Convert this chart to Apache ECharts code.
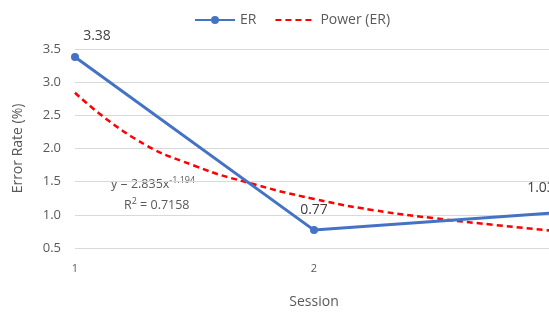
<!DOCTYPE html>
<html>
<head>
<meta charset="utf-8">
<script src="https://cdn.jsdelivr.net/npm/echarts@6/dist/echarts.min.js"></script>
<style>
html, body { margin: 0; padding: 0; background: #fff; }
#chartDiv { width: 549px; height: 312px; }
</style>
</head>
<body>
<div id="chartDiv"></div>
<script>
// 数据
var sessions = [1, 2, 3];
var errorRates = [3.38, 0.77, 1.03];
// Power (ER) trendline
var trendSessions = [1, 1.25, 1.5, 1.75, 2, 2.25, 2.5, 2.75, 3];
var trendValues = [2.84, 2.15, 1.74, 1.46, 1.24, 1.07, 0.95, 0.85, 0.76];
var yTicks = [0.5, 1.0, 1.5, 2.0, 2.5, 3.0, 3.5];

var textColor = '#595959';
var fontName = '"Open Sans", "Noto Sans", sans-serif';

var labelOffsets = [[22, -5], [0, -4], [-12, -9]];

var erData = [];
for (var i = 0; i < sessions.length; i++) {
	erData.push({
		value: [sessions[i], errorRates[i]],
		label: { offset: labelOffsets[i] }
	});
}
var trendData = [];
for (var j = 0; j < trendSessions.length; j++) {
	trendData.push([trendSessions[j], trendValues[j]]);
}

var myChart = echarts.init(document.getElementById('chartDiv'));

var option = {
	animation: false,
	textStyle: { fontFamily: fontName, color: textColor },
	legend: {
		top: 8,
		left: 189,
		itemWidth: 40,
		itemHeight: 10,
		itemGap: 18,
		textStyle: { fontSize: 14, color: textColor, fontFamily: fontName },
		data: [
			{ name: 'ER' },
			{ name: 'Power (ER)', itemStyle: { opacity: 0 } }
		]
	},
	grid: {
		left: 75,
		top: 49,
		width: 478,
		height: 199,
		outerBoundsMode: 'none'
	},
	xAxis: {
		type: 'value',
		min: 1,
		max: 3,
		interval: 1,
		name: 'Session',
		nameLocation: 'middle',
		nameGap: 47,
		nameTextStyle: { fontSize: 14, color: textColor },
		axisLine: { show: false },
		axisTick: { show: false },
		splitLine: { show: false },
		axisLabel: { fontSize: 11, color: textColor, margin: 15 }
	},
	yAxis: {
		type: 'value',
		min: yTicks[0],
		max: yTicks[yTicks.length - 1],
		interval: 0.5,
		name: 'Error Rate (%)',
		nameLocation: 'middle',
		nameGap: 50,
		nameTextStyle: { fontSize: 14, color: textColor },
		axisLine: { show: false },
		axisTick: { show: false },
		splitLine: { lineStyle: { color: '#D9D9D9', width: 1 } },
		axisLabel: {
			fontSize: 13,
			color: textColor,
			margin: 14,
			formatter: function (v) { return v.toFixed(1); }
		}
	},
	graphic: [{
		type: 'text',
		left: 111,
		top: 176,
		style: {
			text: '{b|y = 2.835x}{s|-1.194}',
			rich: {
				b: { fontSize: 12.5, fill: textColor, fontFamily: fontName },
				s: { fontSize: 9, fill: textColor, fontFamily: fontName, verticalAlign: 'top', padding: [0, 0, 7, 0] }
			}
		}
	}, {
		type: 'text',
		left: 124,
		top: 197,
		style: {
			text: '{b|R}{s|2}{b| = 0.7158}',
			rich: {
				b: { fontSize: 12.5, fill: textColor, fontFamily: fontName },
				s: { fontSize: 9, fill: textColor, fontFamily: fontName, padding: [0, 0, 7, 0] }
			}
		}
	}],
	series: [{
		name: 'Power (ER)',
		type: 'line',
		smooth: true,
		symbol: 'none',
		z: 2,
		lineStyle: { color: '#FF0000', width: 2.5, type: [6, 4] },
		itemStyle: { color: '#FF0000' },
		data: trendData
	}, {
		name: 'ER',
		type: 'line',
		symbol: 'circle',
		symbolSize: 8,
		z: 3,
		lineStyle: { color: '#4472C4', width: 3 },
		itemStyle: { color: '#4472C4' },
		label: {
			show: true,
			position: 'top',
			fontSize: 14,
			color: '#404040',
			formatter: function (p) { return p.value[1].toFixed(2); }
		},
		data: erData
	}]
};

myChart.setOption(option);
</script>
</body>
</html>
